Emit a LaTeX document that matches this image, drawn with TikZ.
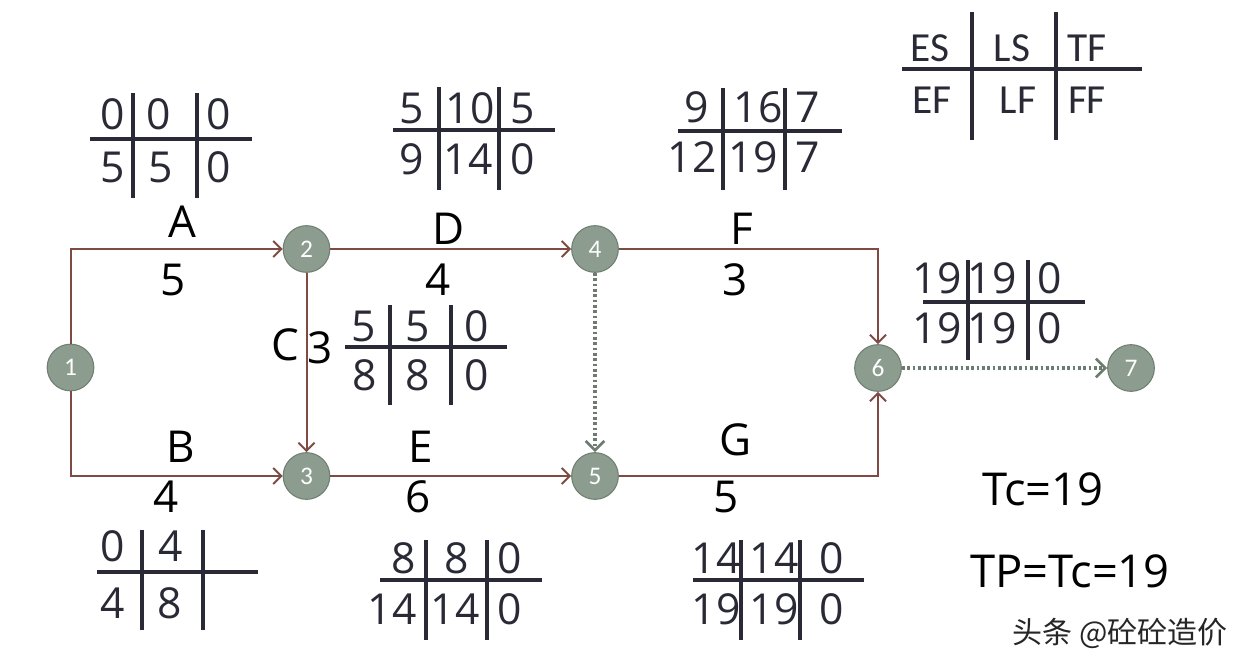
\documentclass[tikz,border=0pt]{standalone}
\usepackage{fontspec}
\setmainfont{Open Sans}
\newfontfamily\legendfont{Carlito}
\newfontfamily\cjkfont{Noto Sans CJK SC}
\usetikzlibrary{arrows.meta}
\definecolor{nodefill}{HTML}{8C9C8F}
\definecolor{nodeedge}{HTML}{6F7F73}
\definecolor{edgebrown}{HTML}{7E4A41}
\definecolor{dotgrey}{HTML}{6E7B70}
\definecolor{ink}{HTML}{2A2A36}
\tikzset{
  evt/.style={circle,fill=nodefill,draw=nodeedge,line width=0.8pt,minimum size=35pt,inner sep=0pt,
    text=white,font=\legendfont\fontsize{19}{19}\selectfont},
  act/.style={draw=edgebrown,line width=1.5pt,-{Straight Barb[length=6pt,width=12pt,line width=1.5pt]}},
  dummy/.style={draw=dotgrey,line width=3pt,dash pattern=on 2.2pt off 1.8pt,
    -{Straight Barb[length=7pt,width=14pt,line width=2pt]}},
  tabline/.style={draw=ink,line width=3pt},
  num/.style={inner sep=0pt,text=ink,font=\fontsize{32}{34}\selectfont},
  lab/.style={inner sep=0pt,text=black,font=\fontsize{33}{35}\selectfont},
  leg/.style={inner sep=0pt,text=ink,font=\legendfont\fontsize{31}{33}\selectfont},
  tc/.style={inner sep=0pt,text=black,font=\fontsize{34}{36}\selectfont},
}
\newcommand{\tabgrid}[7]{%
  \draw[tabline] (#1,#3) -- (#2,#3);
  \draw[tabline] (#4,#6) -- (#4,#7);
  \draw[tabline] (#5,#6) -- (#5,#7);}
\begin{document}
\begin{tikzpicture}[x=0.75pt,y=-0.75pt]
\useasboundingbox[fill=white] (0,0) rectangle (1256,671);

% event nodes
\node[evt] (n1) at (70.5,367.5) {1};
\node[evt] (n2) at (306.5,249) {2};
\node[evt] (n3) at (306.5,476) {3};
\node[evt] (n4) at (595,249) {4};
\node[evt] (n5) at (595,476) {5};
\node[evt] (n6) at (878,368) {6};
\node[evt] (n7) at (1131,368) {7};

% activities
\draw[act] (n1.north) |- (n2.west);
\draw[act] (n1.south) |- (n3.west);
\draw[act] (n2) -- (n4);
\draw[act] (n2) -- (n3);
\draw[act] (n3) -- (n5);
\draw[act] (n4.east) -| (n6.north);
\draw[act] (n5.east) -| (n6.south);
\draw[dummy] (n4) -- (n5);
\draw[dummy] (n6) -- (n7);

% activity labels
\node[lab] (lA) at (182,222) {A};
\node[lab] (dA) at (173,280) {5};
\node[lab] (lD) at (449,229) {D};
\node[lab] (dD) at (438,280) {4};
\node[lab] (lF) at (742,229) {F};
\node[lab] (dF) at (735,280) {3};
\node[lab] (lC) at (285,345) {C};
\node[lab] (dC) at (320,348) {3};
\node[lab] (lB) at (181,447) {B};
\node[lab] (dB) at (166,497) {4};
\node[lab] (lE) at (421,447) {E};
\node[lab] (dE) at (418,497) {6};
\node[lab] (lG) at (736,440) {G};
\node[lab] (dG) at (726,497) {5};

% table A
\tabgrid{90}{252}{139}{133}{197}{93}{198}
\node[num] (a1) at (113,114) {0};
\node[num] (a2) at (159,114) {0};
\node[num] (a3) at (219,114) {0};
\node[num] (a4) at (113,167) {5};
\node[num] (a5) at (161,167) {5};
\node[num] (a6) at (219,167) {0};

% table D
\tabgrid{393}{555}{130}{439}{499}{87}{190}
\node[num] (d1) at (412,108) {5};
\node[num] (d2) at (470,108) {10};
\node[num] (d3) at (523,108) {5};
\node[num] (d4) at (412,159) {9};
\node[num] (d5) at (468,159) {14};
\node[num] (d6) at (523,159) {0};

% table F
\tabgrid{678}{842}{131}{723}{785}{88}{190}
\node[num] (f1) at (697,107) {9};
\node[num] (f2) at (758,107) {16};
\node[num] (f3) at (808,107) {7};
\node[num] (f4) at (692,157) {12};
\node[num] (f5) at (753,157) {19};
\node[num] (f6) at (808,157) {7};

% table node 6
\tabgrid{923}{1085}{302}{968}{1028}{260}{360}
\node[num] (s1) at (937,278) {19};
\node[num] (s2) at (992,278) {19};
\node[num] (s3) at (1050,278) {0};
\node[num] (s4) at (937,328) {19};
\node[num] (s5) at (992,328) {19};
\node[num] (s6) at (1050,328) {0};

% table C
\tabgrid{345}{507}{347}{390}{451}{305}{405}
\node[num] (c1) at (364,326) {5};
\node[num] (c2) at (418,326) {5};
\node[num] (c3) at (477,326) {0};
\node[num] (c4) at (365,375) {8};
\node[num] (c5) at (418,375) {8};
\node[num] (c6) at (477,375) {0};

% table B
\tabgrid{97}{258}{572}{142}{203}{530}{630}
\node[num] (b1) at (113,546) {0};
\node[num] (b2) at (171,546) {4};
\node[num] (b4) at (113,603) {4};
\node[num] (b5) at (170,603) {8};

% table E
\tabgrid{380}{542}{580}{426}{487}{540}{640}
\node[num] (e1) at (404,558) {8};
\node[num] (e2) at (457,558) {8};
\node[num] (e3) at (510,558) {0};
\node[num] (e4) at (392,609) {14};
\node[num] (e5) at (455,609) {14};
\node[num] (e6) at (510,609) {0};

% table G
\tabgrid{693}{864}{580}{741}{800}{540}{640}
\node[num] (g1) at (716,558) {14};
\node[num] (g2) at (774,558) {14};
\node[num] (g3) at (832,558) {0};
\node[num] (g4) at (716,609) {19};
\node[num] (g5) at (774,609) {19};
\node[num] (g6) at (832,609) {0};

% legend
\tabgrid{902}{1142}{69}{972}{1056}{12}{140}
\node[leg] (le1) at (930,48) {ES};
\node[leg] (le2) at (1012,48) {LS};
\node[leg] (le3) at (1087,48) {TF};
\node[leg] (le4) at (932,100) {EF};
\node[leg] (le5) at (1018,100) {LF};
\node[leg] (le6) at (1087,100) {FF};

% durations
\node[tc] (tc) at (1043,489) {Tc=19};
\node[tc] (tp) at (1070,571) {TP=Tc=19};

% watermark
\node[inner sep=0pt,text=black!85,font=\cjkfont\fontsize{22.5}{24}\selectfont] (wm) at (1120,633) {头条 @砼砼造价};
\end{tikzpicture}
\end{document}
